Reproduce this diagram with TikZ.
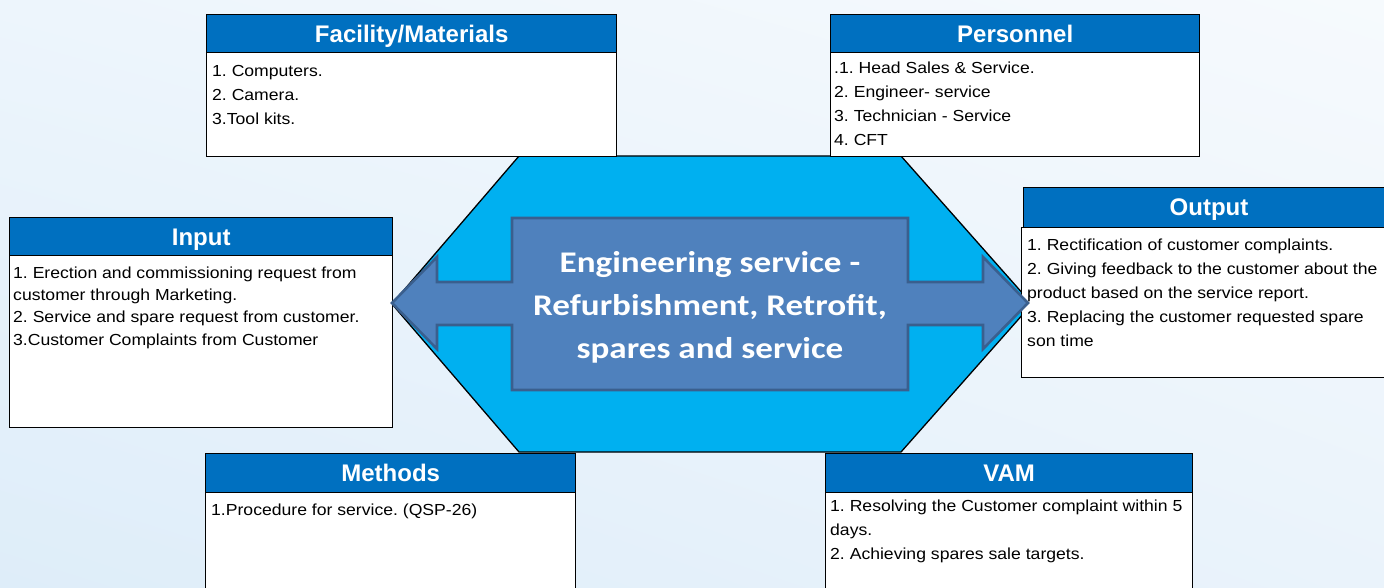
\documentclass[tikz,border=0pt]{standalone}
\usepackage{fontspec}
\usetikzlibrary{shadings}
\setmainfont{Liberation Sans}
\newfontfamily\bodyf[FakeStretch=1.1]{Liberation Sans}
\newfontfamily\hdrf{Liberation Sans}
\newfontfamily\centf[FakeStretch=1.17]{Carlito}
\definecolor{hdrblue}{HTML}{0070C0}
\definecolor{hexcyan}{HTML}{00B0F0}
\definecolor{arrowfill}{HTML}{4F81BD}
\definecolor{arrowline}{HTML}{3A5F8E}
\definecolor{bgA}{HTML}{EDF5FC}
\definecolor{bgB}{HTML}{F6FAFD}
\definecolor{bgC}{HTML}{DEEDF9}
\definecolor{bgD}{HTML}{EAF3FB}
\newcommand{\firstln}{\rule{0pt}{12pt}}
\frenchspacing
\begin{document}
\frenchspacing
\begin{tikzpicture}[x=1pt,y=-1pt,
  hdr/.style={draw=black, line width=1.4pt, fill=hdrblue, text=white,
    font=\hdrf\bfseries\fontsize{24}{28}\selectfont, anchor=north west, inner sep=0pt,
    text height=17.2pt, text depth=0pt},
  bbox/.style={draw=black, line width=1.4pt, fill=white, anchor=north west, inner sep=0pt},
  txt/.style={anchor=north west, align=left, inner sep=0pt,
    font=\bodyf\frenchspacing\fontsize{16}{24}\selectfont},
  txtin/.style={txt, font=\bodyf\frenchspacing\fontsize{16}{22.3}\selectfont},
  hexshape/.style={fill=hexcyan, draw=black, line width=1.3pt},
  dblarrow/.style={fill=arrowfill, draw=arrowline, line width=2.6pt, line join=miter},
  centtxt/.style={font=\centf\bfseries\fontsize{30}{43}\selectfont, text=white, align=center, inner sep=0pt}
]
\useasboundingbox (0,0) rectangle (1384,588);
\clip (0,0) rectangle (1384,588);
\shade[upper left=bgA, upper right=bgB, lower left=bgC, lower right=bgD] (0,0) rectangle (1384,588);

% central hexagon
\draw[hexshape] (392,304) -- (519,156) -- (901,156) -- (1032,304) -- (901,452) -- (519,452) -- cycle;

% Facility/Materials
\node[bbox, minimum width=410pt, minimum height=104pt] (facb) at (206,52) {};
\node[hdr, minimum width=410pt, minimum height=38pt] (fach) at (206,14) {Facility/Materials};
\node[txt] (fact) at (212,64) {\firstln 1. Computers.\\2. Camera.\\3.Tool kits.};

% Personnel
\node[bbox, minimum width=369pt, minimum height=104pt] (perb) at (830,52) {};
\node[hdr, minimum width=369pt, minimum height=38pt] (perh) at (830,14) {Personnel};
\node[txt] (pert) at (834,61) {\firstln .1. Head Sales \& Service.\\2. Engineer- service\\3. Technician - Service\\4. CFT};

% Input
\node[bbox, minimum width=383pt, minimum height=172pt] (inb) at (9,255) {};
\node[hdr, minimum width=383pt, minimum height=38pt] (inh) at (9,217) {Input};
\node[txtin] (intx) at (13,266) {\firstln 1. Erection and commissioning request from\\customer through Marketing.\\2. Service and spare request from customer.\\3.Customer Complaints from Customer};

% Output
\node[bbox, minimum width=380pt, minimum height=150pt] (outb) at (1021,227) {};
\node[hdr, minimum width=380pt, minimum height=40pt] (outh) at (1023,187) {};
\node[text=white, font=\hdrf\bfseries\fontsize{24}{28}\selectfont, inner sep=0pt,
  text height=17.2pt, text depth=0pt] (outl) at (1209,207) {Output};
\node[txt] (outt) at (1027,238.5) {\firstln 1. Rectification of customer complaints.\\2. Giving feedback to the customer about the\\product based on the service report.\\3. Replacing the customer requested spare\\son time};

% Methods
\node[bbox, minimum width=370pt, minimum height=120pt] (metb) at (205,492) {};
\node[hdr, minimum width=370pt, minimum height=39pt] (meth) at (205,453) {Methods};
\node[txt] (mett) at (211,503) {\firstln 1.Procedure for service. (QSP-26)};

% VAM
\node[bbox, minimum width=367pt, minimum height=120pt] (vamb) at (825,492) {};
\node[hdr, minimum width=367pt, minimum height=39pt] (vamh) at (825,453) {VAM};
\node[txt] (vamt) at (830,499.5) {\firstln 1. Resolving the Customer complaint within 5\\days.\\2. Achieving spares sale targets.};

% double arrow
\draw[dblarrow] (392,303) -- (437,257) -- (437,282) -- (512,282) -- (512,218) -- (908,218) -- (908,282) -- (983,282) -- (983,257) -- (1028,303) -- (983,349) -- (983,325) -- (908,325) -- (908,390) -- (512,390) -- (512,325) -- (437,325) -- (437,349) -- cycle;
\node[centtxt] (ctr) at (710,307.5) {Engineering service -\\Refurbishment, Retrofit,\\spares and service};
\end{tikzpicture}
\end{document}
